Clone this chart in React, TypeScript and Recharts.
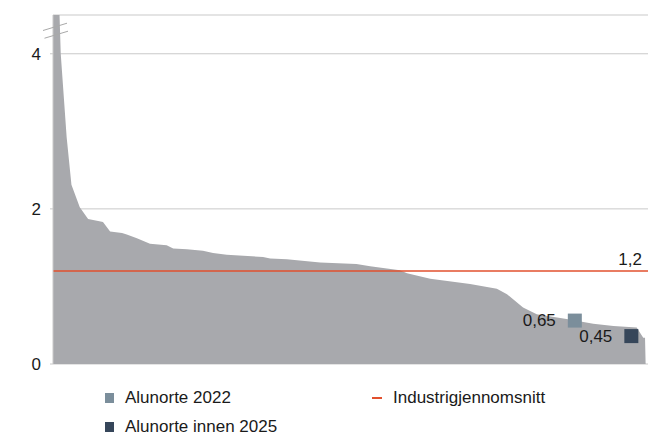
import React from 'react';
import {
  Area,
  CartesianGrid,
  ComposedChart,
  ReferenceDot,
  ReferenceLine,
  Scatter,
  XAxis,
  YAxis,
} from 'recharts';

// cumulative share of industry capacity (%) and emission intensity per producer
const capacityShare = [
  0, 1.1, 1.3, 2.3, 3.1, 4.5, 5.9, 7.8, 8.4, 9.6, 11.6, 12.4, 14.1, 16.3, 19.1, 20.2, 22.5,
  25.2, 26.9, 29.2, 35.3, 36.5, 39.3, 44.9, 51.0, 53.3, 56.1, 58.3, 59.5, 63.4, 70.1, 74.6,
  76.3, 79.0, 81.3, 86.3, 90.8, 94.2, 98.1, 99.2, 99.5, 99.6,
];
const intensity = [
  4.5, 4.5, 4.0, 2.92, 2.31, 2.02, 1.87, 1.84, 1.83, 1.71, 1.69, 1.67, 1.62, 1.55, 1.53, 1.49,
  1.48, 1.46, 1.43, 1.41, 1.38, 1.36, 1.35, 1.31, 1.29, 1.26, 1.23, 1.21, 1.17, 1.1, 1.03, 0.97,
  0.9, 0.73, 0.64, 0.58, 0.52, 0.49, 0.47, 0.34, 0.34, 0,
];

const markerNames = ['Alunorte 2022', 'Alunorte innen 2025'];
const markerLabels = ['0,65', '0,45'];
const markerShare = [87.7, 97.2];
const markerValues = [0.65, 0.45];
const markerColors = ['#7b8e9b', '#36465a'];

const industryAverage = 1.2;
const yTicks = [0, 2, 4];

const FONT = '"Liberation Sans", Arial, sans-serif';
const RED = '#e2502e';

const curve = capacityShare.map((x, i) => ({ x, y: intensity[i] }));
const markers = markerShare.map((x, i) => ({
  x,
  y: markerValues[i],
  label: markerLabels[i],
  fill: markerColors[i],
}));

const MarkerShape = (props: any) => {
  const { cx, cy, payload } = props;
  if (cx == null || cy == null) return null;
  return (
    <g>
      <rect x={cx - 7} y={cy} width={14} height={14} fill={payload.fill} />
      <text
        x={cx - 19}
        y={cy + 7}
        textAnchor="end"
        dominantBaseline="central"
        fontSize={17}
        fontFamily={FONT}
        fill="#1a1a1a"
      >
        {payload.label}
      </text>
    </g>
  );
};

const AxisBreak = (props: any) => {
  const { cx, cy } = props;
  if (cx == null || cy == null) return null;
  return (
    <g stroke="#a9a9a9" strokeWidth={1}>
      <line x1={cx - 10} y1={cy} x2={cx + 14} y2={cy - 7.3} />
      <line x1={cx - 8.5} y1={cy + 7.7} x2={cx + 15} y2={cy + 0.7} />
    </g>
  );
};

export default function App() {
  return (
    <div
      style={{
        position: 'absolute',
        left: 0,
        top: 0,
        width: 652,
        height: 435,
        overflow: 'hidden',
        fontFamily: FONT,
      }}
    >
      <ComposedChart
        width={652}
        height={435}
        data={curve}
        margin={{ top: 15, right: 4, bottom: 71, left: 0 }}
      >
        <CartesianGrid horizontal vertical={false} stroke="#c9c9c9" />
        <XAxis dataKey="x" type="number" domain={[0, 100]} hide />
        <YAxis
          type="number"
          domain={[0, 4.5]}
          ticks={yTicks}
          width={53}
          tickSize={3}
          tickMargin={9}
          axisLine={{ stroke: '#c9c9c9' }}
          tickLine={{ stroke: '#c9c9c9' }}
          tick={{ fontSize: 17, fill: '#1a1a1a', fontFamily: FONT }}
          allowDataOverflow
        />
        <Area
          type="linear"
          dataKey="y"
          stroke="none"
          fill="#a8a9ad"
          fillOpacity={1}
          isAnimationActive={false}
        />
        <ReferenceLine
          y={industryAverage}
          stroke={RED}
          strokeWidth={1.5}
          label={{
            value: '1,2',
            position: 'insideBottomRight',
            offset: 6,
            fontSize: 17,
            fill: '#1a1a1a',
            fontFamily: FONT,
          }}
        />
        <Scatter
          data={markers}
          dataKey="y"
          shape={<MarkerShape />}
          isAnimationActive={false}
        />
        <ReferenceDot x={0} y={4.3} r={0} shape={<AxisBreak />} ifOverflow="visible" />
      </ComposedChart>
      <div
        style={{
          position: 'absolute',
          left: 105,
          top: 383,
          fontSize: 17,
          lineHeight: '20px',
          color: '#1a1a1a',
        }}
      >
        {markerNames.map((name, i) => (
          <div key={name} style={{ display: 'flex', alignItems: 'center', height: 29 }}>
            <span style={{ width: 9, height: 10, background: markerColors[i], marginRight: 11 }} />
            <span>{name}</span>
          </div>
        ))}
      </div>
      <div
        style={{
          position: 'absolute',
          left: 372,
          top: 383,
          height: 29,
          display: 'flex',
          alignItems: 'center',
          fontSize: 17,
          lineHeight: '20px',
          color: '#1a1a1a',
        }}
      >
        <span style={{ width: 10, height: 2, background: RED, marginRight: 11 }} />
        <span>Industrigjennomsnitt</span>
      </div>
    </div>
  );
}
